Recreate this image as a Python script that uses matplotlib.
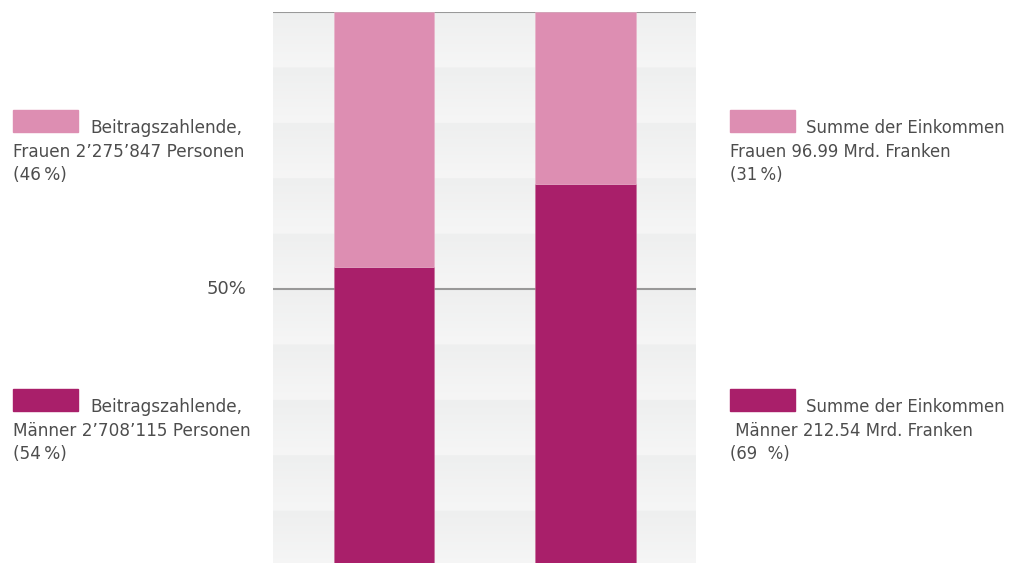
import numpy as np
import matplotlib.pyplot as plt
from matplotlib.patches import Rectangle

# Daten
gruppen = ["Beitragszahlende", "Summe der Einkommen"]
maenner = [54, 69]
frauen = [46, 31]
ref_linien = [50, 100]

legende_links = [
    ("Beitragszahlende,", "Frauen 2\u2019275\u2019847 Personen", "(46\u2009%)"),
    ("Beitragszahlende,", "M\u00e4nner 2\u2019708\u2019115 Personen", "(54\u2009%)"),
]
legende_rechts = [
    ("Summe der Einkommen", "Frauen 96.99 Mrd. Franken", "(31\u2009%)"),
    ("Summe der Einkommen", " M\u00e4nner 212.54 Mrd. Franken", "(69  %)"),
]

col_m = "#a91f6a"
col_f = "#dd8eb2"
col_txt = "#4d4d4d"
col_line = "#999999"

plt.rcParams["font.family"] = ["DejaVu Sans"]

W, H = 1009, 563
fig = plt.figure(figsize=(W / 100, H / 100), dpi=100)

# Achse in Pixelkoordinaten: x 273..696, y 12 (100%) .. 566 (0%)
left, right, top, bottom = 273, 696, 12, 566
ax = fig.add_axes([left / W, 1 - bottom / H, (right - left) / W, (bottom - top) / H])

x = np.arange(len(gruppen))
ax.set_xlim(-0.552, 1.55)
ax.set_ylim(0, 100)

# Hintergrundstreifen mit leichtem Verlauf je 10%-Band
n = 1000
yy = np.linspace(0, 100, n)
frac = (yy % 10) / 10  # 0 unten, 1 oben im Band
dark = np.array([0xee, 0xef, 0xef]) / 255
light = np.array([0xf6, 0xf6, 0xf6]) / 255
grad = light[None, :] * (1 - frac[:, None]) + dark[None, :] * frac[:, None]
ax.imshow(grad[:, None, :], extent=[-0.552, 1.55, 0, 100], origin="lower",
          aspect="auto", zorder=0, interpolation="bilinear")

ax.bar(x, maenner, width=0.5, color=col_m, edgecolor="#c86a98", linewidth=0.4, zorder=2)
ax.bar(x, frauen, width=0.5, bottom=maenner, color=col_f, edgecolor="#e8b0c8",
       linewidth=0.4, zorder=2)

for v in ref_linien:
    ax.axhline(v, color=col_line, lw=1.5, zorder=1)

for s in ax.spines.values():
    s.set_visible(False)
ax.set_xticks([])
ax.set_yticks([])

fig.text(246 / W, 1 - 289 / H, "50%", ha="right", va="center", fontsize=13, color=col_txt)


def legende(x0, y0, farbe, zeilen, tx, fs):
    fig.patches.append(Rectangle((x0 / W, 1 - (y0 + 22) / H), 65 / W, 22 / H,
                                 transform=fig.transFigure, color=farbe))
    fig.text(tx / W, 1 - (y0 + 18) / H, zeilen[0], fontsize=fs, color=col_txt, va="center")
    fig.text(x0 / W, 1 - (y0 + 42) / H, zeilen[1], fontsize=fs, color=col_txt, va="center")
    fig.text(x0 / W, 1 - (y0 + 65) / H, zeilen[2], fontsize=fs, color=col_txt, va="center")


legende(13, 110, col_f, legende_links[0], 90, 12.2)
legende(13, 389, col_m, legende_links[1], 90, 12.2)
legende(730, 110, col_f, legende_rechts[0], 806, 11.9)
legende(730, 389, col_m, legende_rechts[1], 806, 11.9)

fig.savefig("out.png", dpi=100)
